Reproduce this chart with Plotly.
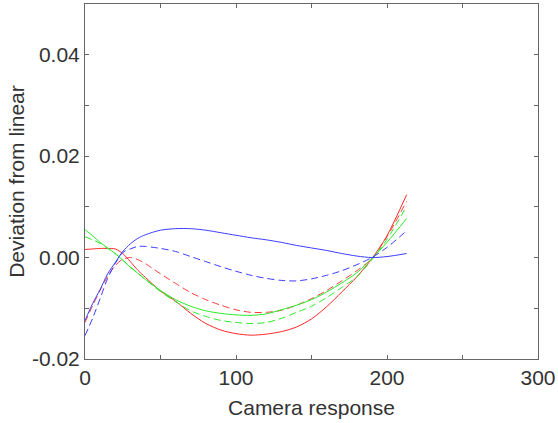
import plotly.graph_objects as go

x = [0, 5, 10, 15, 20, 25, 30, 35, 40, 50, 60, 70, 80, 90, 100, 110, 120, 130, 140, 150, 160, 170, 180, 190, 200, 213]

red_solid = [0.0016, 0.0017, 0.0018, 0.0018, 0.0017, 0.0008, -0.0008, -0.0025, -0.0039, -0.0066, -0.0086, -0.0110,
             -0.0130, -0.0143, -0.0150, -0.0153, -0.0151, -0.0146, -0.0137, -0.0121, -0.0097, -0.0068, -0.0038,
             -0.0002, 0.0043, 0.0124]
red_dash = [-0.0128, -0.0095, -0.0065, -0.0037, -0.0016, -0.0003, 0.0000, -0.0004, -0.0012, -0.0032, -0.0051,
            -0.0069, -0.0083, -0.0094, -0.0103, -0.0108, -0.0108, -0.0104, -0.0094, -0.0081, -0.0065, -0.0046,
            -0.0026, -0.0002, 0.0041, 0.0111]
green_solid = [0.0055, 0.0043, 0.0030, 0.0019, 0.0008, -0.0005, -0.0019, -0.0031, -0.0043, -0.0065, -0.0083,
               -0.0096, -0.0105, -0.0110, -0.0113, -0.0114, -0.0111, -0.0103, -0.0094, -0.0083, -0.0068, -0.0050,
               -0.0030, -0.0002, 0.0030, 0.0077]
green_dash = [0.0041, 0.0035, 0.0028, 0.0018, 0.0008, -0.0005, -0.0018, -0.0031, -0.0043, -0.0067, -0.0087,
              -0.0105, -0.0116, -0.0124, -0.0128, -0.0130, -0.0128, -0.0120, -0.0108, -0.0096, -0.0079, -0.0059,
              -0.0038, -0.0004, 0.0036, 0.0101]
blue_solid = [-0.0124, -0.0091, -0.0063, -0.0032, -0.0010, 0.0012, 0.0027, 0.0038, 0.0045, 0.0054, 0.0057,
              0.0057, 0.0054, 0.0049, 0.0044, 0.0039, 0.0035, 0.0030, 0.0024, 0.0019, 0.0014, 0.0008, 0.0003,
              0.0000, 0.0002, 0.0008]
blue_dash = [-0.0154, -0.0120, -0.0081, -0.0041, -0.0012, 0.0010, 0.0017, 0.0022, 0.0022, 0.0018, 0.0012,
             0.0002, -0.0008, -0.0018, -0.0027, -0.0035, -0.0041, -0.0045, -0.0046, -0.0042, -0.0035, -0.0026,
             -0.0014, 0.0000, 0.0020, 0.0053]

x_ticks = [0, 50, 100, 150, 200, 250, 300]
x_labels = ["0", "", "100", "", "200", "", "300"]
y_ticks = [-0.02, -0.01, 0.0, 0.01, 0.02, 0.03, 0.04, 0.05]
y_labels = ["-0.02", "", "0.00", "", "0.02", "", "0.04", ""]

series = [
    (red_solid, "rgb(255,40,40)", "solid"),
    (red_dash, "rgb(255,60,60)", "7px,4px"),
    (green_solid, "rgb(40,235,40)", "solid"),
    (green_dash, "rgb(40,235,40)", "7px,4px"),
    (blue_solid, "rgb(60,60,255)", "solid"),
    (blue_dash, "rgb(60,60,255)", "7px,4px"),
]

fig = go.Figure()
for ys, col, dash in series:
    fig.add_trace(go.Scatter(x=x, y=ys, mode="lines",
                             line=dict(color=col, width=1, dash=dash, shape="spline", smoothing=0.8),
                             showlegend=False, hoverinfo="skip"))

axis_common = dict(showgrid=False, zeroline=False, showline=True, linecolor="#666", linewidth=1,
                   mirror="ticks", ticks="inside", ticklen=4, tickcolor="#666", tickwidth=1,
                   automargin=False,
                   tickfont=dict(size=21, color="#333"), title_font=dict(size=21, color="#333"))

fig.update_layout(
    width=558, height=423,
    margin=dict(l=85, r=20, t=4, b=64),
    paper_bgcolor="white", plot_bgcolor="white",
    font=dict(family="Liberation Sans, Arial, sans-serif", size=21, color="#333"),
    xaxis=dict(range=[0, 300], tickmode="array", tickvals=x_ticks, ticktext=x_labels,
               title=dict(text="Camera response", standoff=12), **axis_common),
    yaxis=dict(range=[-0.02, 0.05], tickmode="array", tickvals=y_ticks, ticktext=y_labels,
               title=dict(text="Deviation from linear", standoff=1), **axis_common),
)

fig.write_html("out.html", config={"displayModeBar": False},
               post_script="document.body.style.margin='0';document.body.style.overflow='hidden';")
